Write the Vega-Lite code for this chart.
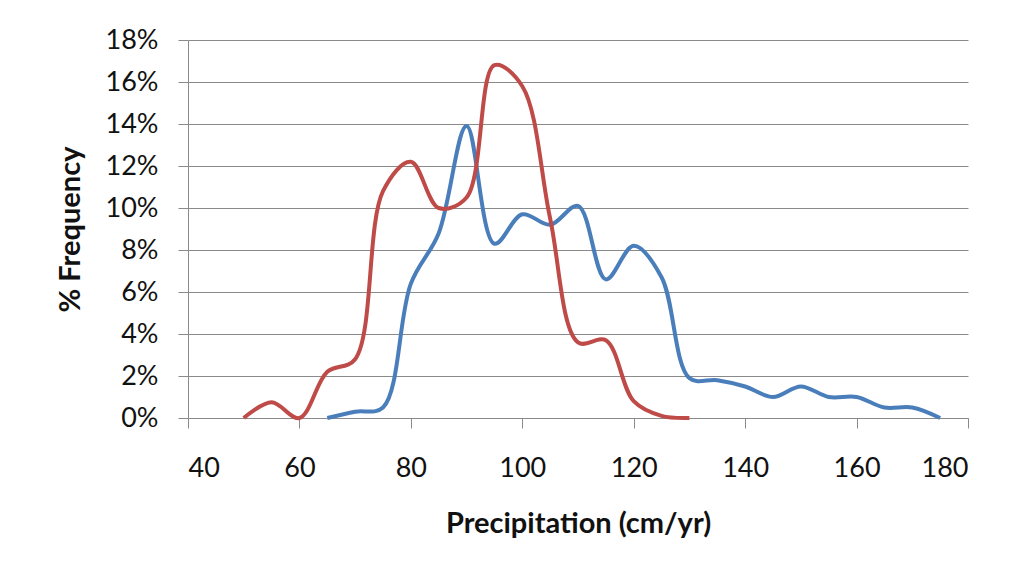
{
  "$schema": "https://vega.github.io/schema/vega-lite/v6.json",
  "width": 780,
  "height": 378,
  "autosize": "none",
  "padding": {"left": 188, "top": 40, "right": 46, "bottom": 153},
  "background": "white",
  "config": {
    "view": {"stroke": null},
    "font": "Lato",
    "axis": {"labelFont": "Lato", "titleFont": "Lato", "labelColor": "#111", "titleColor": "#111"}
  },
  "data": {
    "values": [
      {"series": "Series1", "precip": 65, "freq": 0},
      {"series": "Series1", "precip": 70, "freq": 0.3},
      {"series": "Series1", "precip": 75, "freq": 0.5},
      {"series": "Series1", "precip": 80, "freq": 6.4},
      {"series": "Series1", "precip": 85, "freq": 8.8},
      {"series": "Series1", "precip": 90, "freq": 13.9},
      {"series": "Series1", "precip": 95, "freq": 8.3},
      {"series": "Series1", "precip": 100, "freq": 9.7},
      {"series": "Series1", "precip": 105, "freq": 9.2},
      {"series": "Series1", "precip": 110, "freq": 10.1},
      {"series": "Series1", "precip": 115, "freq": 6.6},
      {"series": "Series1", "precip": 120, "freq": 8.2},
      {"series": "Series1", "precip": 125, "freq": 6.7},
      {"series": "Series1", "precip": 130, "freq": 1.9},
      {"series": "Series1", "precip": 135, "freq": 1.8},
      {"series": "Series1", "precip": 140, "freq": 1.5},
      {"series": "Series1", "precip": 145, "freq": 1.0},
      {"series": "Series1", "precip": 150, "freq": 1.5},
      {"series": "Series1", "precip": 155, "freq": 1.0},
      {"series": "Series1", "precip": 160, "freq": 1.0},
      {"series": "Series1", "precip": 165, "freq": 0.5},
      {"series": "Series1", "precip": 170, "freq": 0.5},
      {"series": "Series1", "precip": 175, "freq": 0},
      {"series": "Series2", "precip": 50, "freq": 0},
      {"series": "Series2", "precip": 55, "freq": 0.75},
      {"series": "Series2", "precip": 60, "freq": 0},
      {"series": "Series2", "precip": 65, "freq": 2.2},
      {"series": "Series2", "precip": 70, "freq": 2.8},
      {"series": "Series2", "precip": 75, "freq": 10.8},
      {"series": "Series2", "precip": 80, "freq": 12.2},
      {"series": "Series2", "precip": 85, "freq": 10.0},
      {"series": "Series2", "precip": 90, "freq": 10.5},
      {"series": "Series2", "precip": 95, "freq": 16.8},
      {"series": "Series2", "precip": 100, "freq": 15.8},
      {"series": "Series2", "precip": 105, "freq": 9.5},
      {"series": "Series2", "precip": 110, "freq": 3.6},
      {"series": "Series2", "precip": 115, "freq": 3.7},
      {"series": "Series2", "precip": 120, "freq": 0.8},
      {"series": "Series2", "precip": 125, "freq": 0.1},
      {"series": "Series2", "precip": 130, "freq": 0}
    ]
  },
  "mark": {"type": "line", "interpolate": "catmull-rom", "strokeWidth": 4, "clip": false},
  "encoding": {
    "x": {
      "field": "precip",
      "type": "quantitative",
      "scale": {"domain": [40, 180], "nice": false, "zero": false},
      "axis": {
        "title": "Precipitation (cm/yr)",
        "values": [40, 60, 80, 100, 120, 140, 160, 180],
        "grid": false,
        "domainColor": "#8a8a8a",
        "tickColor": "#8a8a8a",
        "tickSize": 10,
        "labelFontSize": 27,
        "labelPadding": 27,
        "titleFontSize": 29,
        "titleFontWeight": "bold",
        "titlePadding": 28
      }
    },
    "y": {
      "field": "freq",
      "type": "quantitative",
      "scale": {"domain": [0, 18], "nice": false},
      "axis": {
        "title": "% Frequency",
        "values": [0, 2, 4, 6, 8, 10, 12, 14, 16, 18],
        "labelExpr": "datum.value + '%'",
        "grid": true,
        "gridColor": "#8a8a8a",
        "gridWidth": 1,
        "domainColor": "#8a8a8a",
        "tickColor": "#8a8a8a",
        "tickSize": 10,
        "labelFontSize": 27,
        "labelPadding": 20,
        "titleFontSize": 29,
        "titleFontWeight": "bold",
        "titlePadding": 20
      }
    },
    "color": {
      "field": "series",
      "type": "nominal",
      "scale": {"domain": ["Series1", "Series2"], "range": ["#4a7ebb", "#be4b48"]},
      "legend": null
    }
  }
}
